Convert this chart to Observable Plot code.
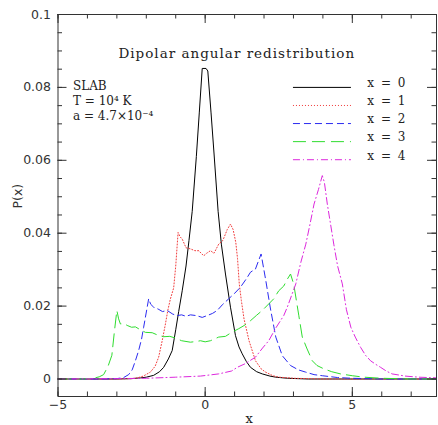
<!DOCTYPE html>
<html><head><meta charset="utf-8">
<script src="https://cdn.jsdelivr.net/npm/d3@7"></script>
<script src="https://cdn.jsdelivr.net/npm/@observablehq/plot@0.6"></script>
<style>body{margin:0;background:#fff} svg{display:block;background:#fff}</style>
</head><body><div id="chart"></div>
<script>
// ---- data ----
const x0 = [-5,-3,-2.5,-2.2,-2.0,-1.75,-1.55,-1.41,-1.25,-1.12,-1.0,-0.9,-0.78,-0.65,-0.55,-0.44,-0.3,-0.2,-0.1,0.03,0.09,0.2,0.3,0.44,0.55,0.69,0.86,1.03,1.15,1.26,1.4,1.54,1.75,1.94,2.2,2.4,2.8,3.5,5,7.9];
const p0 = [0,0,0.0001,0.0003,0.0005,0.001,0.002,0.0032,0.0055,0.0078,0.0135,0.0185,0.0242,0.031,0.038,0.046,0.061,0.073,0.0852,0.0852,0.0845,0.073,0.062,0.046,0.037,0.0288,0.0197,0.0119,0.0088,0.0069,0.0048,0.0032,0.002,0.0014,0.0008,0.0005,0.0002,0,0,0];

const x1 = [-5,-3,-2.5,-2.31,-2.1,-1.86,-1.7,-1.58,-1.46,-1.35,-1.27,-1.18,-1.07,-1.0,-0.92,-0.85,-0.78,-0.65,-0.5,-0.35,-0.22,-0.05,0.05,0.18,0.3,0.46,0.6,0.75,0.86,0.95,1.04,1.1,1.16,1.23,1.32,1.49,1.71,1.9,2.05,2.3,2.5,3,4,7.9];
const p1 = [0,0,0.0001,0.0003,0.0008,0.0019,0.0035,0.006,0.0105,0.0151,0.0188,0.022,0.025,0.031,0.0402,0.039,0.0384,0.036,0.0357,0.0352,0.0352,0.0338,0.0345,0.0352,0.0345,0.037,0.038,0.041,0.0425,0.041,0.0375,0.033,0.026,0.0215,0.0165,0.0105,0.005,0.0028,0.0019,0.0009,0.0005,0.0002,0,0];

const x2 = [-5,-3.5,-3.0,-2.77,-2.6,-2.48,-2.37,-2.26,-2.16,-2.09,-1.97,-1.92,-1.85,-1.75,-1.6,-1.45,-1.29,-1.1,-0.95,-0.8,-0.65,-0.5,-0.3,-0.1,0.1,0.25,0.41,0.6,0.8,1.0,1.2,1.4,1.54,1.71,1.9,2.05,2.22,2.4,2.62,2.9,3.17,3.41,3.7,3.98,4.5,5,6,7.9];
const p2 = [0,0,0.0001,0.0004,0.0012,0.0025,0.005,0.0078,0.011,0.0142,0.0197,0.022,0.0205,0.0197,0.0192,0.0185,0.0188,0.0178,0.0174,0.0176,0.0172,0.0176,0.0174,0.0169,0.0175,0.018,0.0188,0.0205,0.022,0.0235,0.0252,0.0275,0.0293,0.0302,0.0343,0.0275,0.0192,0.0115,0.0064,0.0037,0.0025,0.0019,0.0012,0.0009,0.0004,0.0002,0,0];

const x3 = [-5,-4.2,-3.8,-3.6,-3.45,-3.3,-3.17,-3.08,-3.0,-2.94,-2.88,-2.75,-2.65,-2.5,-2.37,-2.2,-2.03,-1.8,-1.6,-1.41,-1.2,-1.0,-0.8,-0.5,-0.3,-0.16,0.0,0.18,0.46,0.69,0.9,1.14,1.35,1.54,1.75,1.94,2.16,2.33,2.5,2.67,2.8,2.9,3.01,3.1,3.18,3.3,3.45,3.64,3.8,4.03,4.3,4.6,5.0,5.4,6,7,7.9];
const p3 = [0,0,0.0002,0.0006,0.0012,0.0035,0.0065,0.0133,0.0188,0.0165,0.0151,0.0152,0.0147,0.0142,0.0143,0.0135,0.0128,0.0127,0.012,0.0116,0.0117,0.0112,0.0105,0.0101,0.0103,0.0105,0.0102,0.0105,0.0115,0.0117,0.0128,0.0138,0.0148,0.016,0.0175,0.0188,0.0206,0.022,0.0242,0.0255,0.0275,0.0288,0.026,0.0215,0.0175,0.0115,0.0085,0.005,0.0037,0.0028,0.002,0.0014,0.0009,0.0005,0.0002,0,0];

const x4 = [-5,-3,-2,-1,-0.16,0.46,0.9,1.09,1.36,1.71,1.95,2.16,2.4,2.67,2.79,3.08,3.25,3.42,3.55,3.7,3.85,3.98,4.05,4.15,4.25,4.37,4.5,4.66,4.8,4.95,5.1,5.28,5.45,5.62,5.8,5.96,6.15,6.35,6.8,7.26,7.9];
const p4 = [0,0.0001,0.0002,0.0005,0.0008,0.0014,0.0022,0.0032,0.0042,0.006,0.0085,0.0105,0.014,0.0174,0.0197,0.0261,0.032,0.037,0.042,0.048,0.052,0.0558,0.054,0.048,0.043,0.037,0.031,0.0261,0.019,0.0142,0.0115,0.0087,0.0065,0.005,0.004,0.0032,0.0022,0.0014,0.0008,0.0005,0.0003];

const seriesLabels = ["x = 0", "x = 1", "x = 2", "x = 3", "x = 4"];
const seriesColors = ["#000000", "#f03c3c", "#2b2bf0", "#2fdc2f", "#dc28dc"];
const seriesDash = [null, "1,2", "7,4", "13,6", "7,3,1,3"];

const xMajorTicks = [-5, 0, 5];
const xMajorLabels = ["\u22125", "0", "5"];
const xMinorTicks = [-5,-4,-3,-2,-1,0,1,2,3,4,5,6,7];
const yMajorTicks = [0, 0.02, 0.04, 0.06, 0.08, 0.1];
const yMajorLabels = ["0", "0.02", "0.04", "0.06", "0.08", "0.1"];
const yMinorTicks = [0,0.005,0.01,0.015,0.02,0.025,0.03,0.035,0.04,0.045,0.05,0.055,0.06,0.065,0.07,0.075,0.08,0.085,0.09,0.095,0.1];

const titleText = "Dipolar angular redistribution";
const infoText = "SLAB\nT = 10\u2074 K\na = 4.7\u00d710\u207b\u2074";
const xLabel = "x";
const yLabel = "P(x)";

// ---- build ----
const W = 438, H = 425, mL = 57.5, mR = 2, mT = 14, mB = 29;
const plotW = W - mL - mR, plotH = H - mT - mB;
const xs = [x0, x1, x2, x3, x4], ps = [p0, p1, p2, p3, p4];
const series = xs.map((xv, k) => xv.map((x, i) => ({x, p: ps[k][i]})));

const serif = "DejaVu Serif";
const legendX1 = 3.0, legendX2 = 4.97, legendTextX = 5.51;
const legendY = seriesLabels.map((_, i) => 0.0800 - i * 0.00496);

const marks = [];
series.forEach((data, k) => {
  marks.push(Plot.line(data, {x: "x", y: "p", stroke: seriesColors[k], strokeWidth: 1,
    strokeDasharray: seriesDash[k] || undefined, clip: true}));
  marks.push(Plot.ruleY([legendY[k]], {y: d => d, x1: legendX1, x2: legendX2, stroke: seriesColors[k],
    strokeWidth: 1, strokeDasharray: seriesDash[k] || undefined}));
});
marks.push(Plot.text(seriesLabels, {x: () => legendTextX, y: (d, i) => legendY[i], text: d => d,
  textAnchor: "start", dy: -4, fontFamily: serif, fontSize: 12, fill: "#222"}));

// ticks (inward, on all four sides)
marks.push(Plot.tickX(xMinorTicks, {x: d => d, insetTop: plotH - 4.5, stroke: "#333"}));
marks.push(Plot.tickX(xMinorTicks, {x: d => d, insetBottom: plotH - 4.5, stroke: "#333"}));
marks.push(Plot.tickX(xMajorTicks, {x: d => d, insetTop: plotH - 9, stroke: "#333"}));
marks.push(Plot.tickX(xMajorTicks, {x: d => d, insetBottom: plotH - 9, stroke: "#333"}));
marks.push(Plot.tickY(yMinorTicks, {y: d => d, insetRight: plotW - 4.5, stroke: "#333"}));
marks.push(Plot.tickY(yMinorTicks, {y: d => d, insetLeft: plotW - 4.5, stroke: "#333"}));
marks.push(Plot.tickY(yMajorTicks, {y: d => d, insetRight: plotW - 9, stroke: "#333"}));
marks.push(Plot.tickY(yMajorTicks, {y: d => d, insetLeft: plotW - 9, stroke: "#333"}));
marks.push(Plot.frame({stroke: "#333"}));

// tick labels
marks.push(Plot.text(xMajorTicks, {x: d => d, frameAnchor: "bottom", dy: 12, text: (d, i) => xMajorLabels[i],
  fontSize: 12.5, fill: "#333"}));
marks.push(Plot.text(yMajorTicks, {y: d => d, frameAnchor: "left", dx: -7, textAnchor: "end",
  text: (d, i) => yMajorLabels[i], fontSize: 12.5, fill: "#333"}));

// axis labels
marks.push(Plot.text([yLabel], {frameAnchor: "left", dx: -40, dy: 3, rotate: -90, text: d => d, fontSize: 12.5, fill: "#333"}));
marks.push(Plot.text([xLabel], {frameAnchor: "bottom", dx: 2, dy: 26, text: d => d, fontSize: 13, fontFamily: serif, fill: "#222"}));

// title and annotation
marks.push(Plot.text([titleText], {frameAnchor: "top", dx: -10.5, dy: 34, text: d => d, fontFamily: serif, fontSize: 13.5, fill: "#222"}));
marks.push(Plot.text([infoText], {frameAnchor: "top-left", dx: 15, dy: 65, lineAnchor: "top", lineHeight: 1.25,
  textAnchor: "start", text: d => d, fontFamily: serif, fontSize: 12, fill: "#222"}));

const chart = Plot.plot({
  width: W, height: H,
  marginLeft: mL, marginRight: mR, marginTop: mT, marginBottom: mB,
  style: {fontFamily: "DejaVu Sans", background: "#fff"},
  x: {domain: [-5, 7.86], axis: null},
  y: {domain: [-0.0048, 0.1], axis: null},
  marks
});
document.getElementById("chart").appendChild(chart);
const sel = d3.select(chart).selectAll("text");
sel.filter(function() { return this.textContent === titleText; }).attr("letter-spacing", "1px");
sel.filter(function() { return seriesLabels.includes(this.textContent); }).attr("letter-spacing", "1.5px");
</script>
</body></html>
